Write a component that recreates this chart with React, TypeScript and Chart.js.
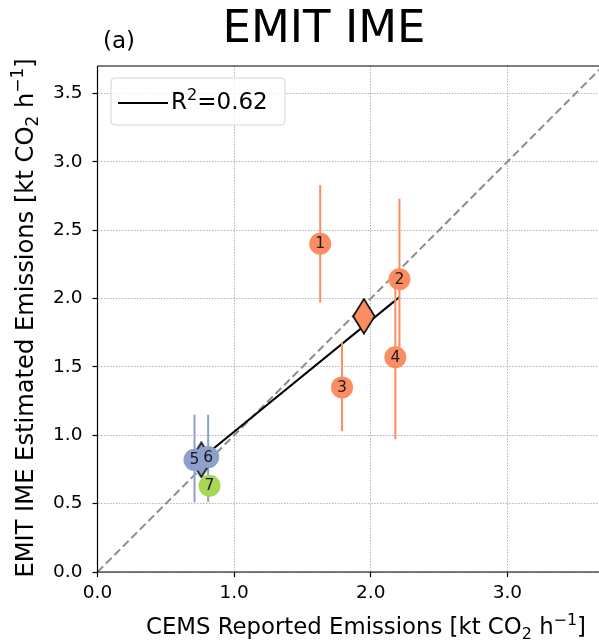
import React, { useEffect, useRef } from 'react';
import { Chart, registerables } from 'chart.js';

Chart.register(...registerables);

// ---------- data ----------
const siteLabels = ['1', '2', '3', '4', '5', '6', '7'];
const cemsReported = [1.63, 2.21, 1.79, 2.18, 0.71, 0.81, 0.82];
const emitEstimated = [2.40, 2.14, 1.35, 1.57, 0.82, 0.84, 0.63];
const emitLow = [1.97, 1.58, 1.03, 0.97, 0.51, 0.51, 0.57];
const emitHigh = [2.83, 2.73, 1.68, 2.08, 1.15, 1.15, 0.69];
const siteColors = ['#fc8d62', '#fc8d62', '#fc8d62', '#fc8d62', '#8da0cb', '#8da0cb', '#a6d854'];

const meanCems = [1.95, 0.76];
const meanEmit = [1.87, 0.82];
const meanColors = ['#fc8d62', '#8da0cb'];

const fitX = [0.71, 2.21];
const fitY = [0.79, 2.01];
const oneToOne = [0, 3.7];

const xTicks = [0, 1, 2, 3];
const yTicks = [0, 0.5, 1, 1.5, 2, 2.5, 3, 3.5];
const axisMax = 3.7;

const titleText = 'EMIT IME';
const panelText = '(a)';
type Seg = { t: string; k: number };
const xLabelParts: Seg[] = [
  { t: 'CEMS Reported Emissions [kt CO', k: 0 },
  { t: '2', k: -1 },
  { t: ' h', k: 0 },
  { t: '\u22121', k: 1 },
  { t: ']', k: 0 },
];
const yLabelParts: Seg[] = [
  { t: 'EMIT IME Estimated Emissions [kt CO', k: 0 },
  { t: '2', k: -1 },
  { t: ' h', k: 0 },
  { t: '\u22121', k: 1 },
  { t: ']', k: 0 },
];
const legendParts: Seg[] = [
  { t: 'R', k: 0 },
  { t: '2', k: 1 },
  { t: '=0.62', k: 0 },
];

const FONT = '"DejaVu Sans", "Liberation Sans", sans-serif';

function drawRich(ctx: CanvasRenderingContext2D, segs: Seg[], x: number, y: number, size: number, align: 'left' | 'center') {
  const widths = segs.map((s) => {
    ctx.font = `${s.k ? size * 0.7 : size}px ${FONT}`;
    return ctx.measureText(s.t).width;
  });
  const total = widths.reduce((a, b) => a + b, 0);
  let cx = align === 'center' ? x - total / 2 : x;
  ctx.textAlign = 'left';
  ctx.textBaseline = 'alphabetic';
  segs.forEach((s, i) => {
    ctx.font = `${s.k ? size * 0.7 : size}px ${FONT}`;
    const dy = s.k === 1 ? -size * 0.4 : s.k === -1 ? size * 0.22 : 0;
    ctx.fillText(s.t, cx, y + dy);
    cx += widths[i];
  });
}

function makeDiamond(color: string) {
  const c = document.createElement('canvas');
  const w = 24;
  const h = 37;
  c.width = w;
  c.height = h;
  const g = c.getContext('2d')!;
  g.beginPath();
  g.moveTo(w / 2, 1.2);
  g.lineTo(w - 1.2, h / 2);
  g.lineTo(w / 2, h - 1.2);
  g.lineTo(1.2, h / 2);
  g.closePath();
  g.fillStyle = color;
  g.fill();
  g.lineWidth = 1.6;
  g.strokeStyle = '#000';
  g.lineJoin = 'miter';
  g.stroke();
  return c;
}

const decorPlugin = {
  id: 'decor',
  afterDatasetsDraw(chart: any) {
    const ctx: CanvasRenderingContext2D = chart.ctx;
    const meta = chart.getDatasetMeta(chart.data.datasets.length - 1);
    ctx.save();
    ctx.fillStyle = '#1a1a1a';
    ctx.font = `15.5px ${FONT}`;
    ctx.textAlign = 'center';
    ctx.textBaseline = 'middle';
    meta.data.forEach((el: any, i: number) => {
      ctx.fillText(siteLabels[i], el.x, el.y + 0.5);
    });
    ctx.restore();
  },
  afterDraw(chart: any) {
    const ctx: CanvasRenderingContext2D = chart.ctx;
    const a = chart.chartArea;
    ctx.save();
    // spines (left, top, bottom)
    ctx.strokeStyle = '#000';
    ctx.lineWidth = 1.2;
    ctx.beginPath();
    ctx.moveTo(a.left, a.top);
    ctx.lineTo(a.right, a.top);
    ctx.moveTo(a.left, a.top);
    ctx.lineTo(a.left, a.bottom);
    ctx.lineTo(a.right, a.bottom);
    ctx.stroke();

    // title
    ctx.fillStyle = '#000';
    ctx.font = `45px ${FONT}`;
    ctx.textAlign = 'center';
    ctx.textBaseline = 'alphabetic';
    ctx.fillText(titleText, 324, 42);
    ctx.font = `23px ${FONT}`;
    ctx.textAlign = 'left';
    ctx.fillText(panelText, 103, 48);

    // axis titles
    ctx.fillStyle = '#000';
    drawRich(ctx, xLabelParts, 366, 634, 22.8, 'center');
    ctx.save();
    ctx.translate(33, 318);
    ctx.rotate(-Math.PI / 2);
    drawRich(ctx, yLabelParts, 0, 0, 24.2, 'center');
    ctx.restore();

    // legend
    const bx = 111, by = 78, bw = 174, bh = 47, r = 4;
    ctx.beginPath();
    ctx.moveTo(bx + r, by);
    ctx.lineTo(bx + bw - r, by);
    ctx.quadraticCurveTo(bx + bw, by, bx + bw, by + r);
    ctx.lineTo(bx + bw, by + bh - r);
    ctx.quadraticCurveTo(bx + bw, by + bh, bx + bw - r, by + bh);
    ctx.lineTo(bx + r, by + bh);
    ctx.quadraticCurveTo(bx, by + bh, bx, by + bh - r);
    ctx.lineTo(bx, by + r);
    ctx.quadraticCurveTo(bx, by, bx + r, by);
    ctx.closePath();
    ctx.fillStyle = 'rgba(255,255,255,0.8)';
    ctx.fill();
    ctx.strokeStyle = '#d4d4d4';
    ctx.lineWidth = 1;
    ctx.stroke();
    ctx.strokeStyle = '#000';
    ctx.lineWidth = 2;
    ctx.beginPath();
    ctx.moveTo(118, 103);
    ctx.lineTo(168, 103);
    ctx.stroke();
    ctx.fillStyle = '#000';
    drawRich(ctx, legendParts, 171, 109, 23, 'left');
    ctx.restore();
  },
};

export default function App() {
  const ref = useRef<HTMLCanvasElement | null>(null);

  useEffect(() => {
    if (!ref.current) return;
    const diamonds = meanColors.map(makeDiamond);

    const errorSets = siteLabels.map((lab, i) => ({
      label: `err ${lab}`,
      data: [
        { x: cemsReported[i], y: emitLow[i] },
        { x: cemsReported[i], y: emitHigh[i] },
      ],
      showLine: true,
      borderColor: siteColors[i],
      borderWidth: 2,
      pointRadius: 0,
      order: 3,
    }));

    const tickFont = { family: FONT, size: 18.5 };
    const gridCommon = {
      color: '#b3b3b3',
      lineWidth: 1,
      drawTicks: true,
      tickLength: 5,
      tickColor: '#000',
      tickWidth: 1.2,
    };

    const chart = new Chart(ref.current, {
      type: 'scatter',
      data: {
        datasets: [
          {
            label: '1:1',
            data: oneToOne.map((v) => ({ x: v, y: v })),
            showLine: true,
            borderColor: '#8c8c8c',
            borderDash: [8, 4],
            borderWidth: 2,
            pointRadius: 0,
            order: 5,
          },
          {
            label: 'fit',
            data: fitX.map((v, i) => ({ x: v, y: fitY[i] })),
            showLine: true,
            borderColor: '#000',
            borderWidth: 2,
            pointRadius: 0,
            order: 4,
          },
          ...errorSets,
          {
            label: 'mean',
            data: meanCems.map((v, i) => ({ x: v, y: meanEmit[i] })),
            pointStyle: diamonds as any,
            pointRadius: 10,
            order: 2,
          },
          {
            label: 'sites',
            data: cemsReported.map((v, i) => ({ x: v, y: emitEstimated[i] })),
            backgroundColor: siteColors,
            borderWidth: 0,
            pointRadius: 11,
            pointStyle: 'circle',
            order: 1,
          },
        ] as any,
      },
      options: {
        animation: false,
        responsive: false,
        events: [],
        layout: { padding: { left: 0, top: 66, right: 37, bottom: 0 } },
        plugins: {
          legend: { display: false },
          tooltip: { enabled: false },
          title: { display: false },
        },
        scales: {
          x: {
            type: 'linear',
            min: 0,
            max: axisMax,
            afterBuildTicks: (s: any) => {
              s.ticks = xTicks.map((v) => ({ value: v }));
            },
            afterFit: (s: any) => {
              s.height = 69;
            },
            ticks: {
              callback: (v: any) => Number(v).toFixed(1),
              font: tickFont,
              color: '#000',
              padding: 5,
              maxRotation: 0,
              autoSkip: false,
            },
            grid: gridCommon,
            border: { display: false, dash: [1.5, 1.5] },
          },
          y: {
            type: 'linear',
            min: 0,
            max: axisMax,
            afterBuildTicks: (s: any) => {
              s.ticks = yTicks.map((v) => ({ value: v }));
            },
            afterFit: (s: any) => {
              s.width = 97.5;
            },
            ticks: {
              callback: (v: any) => Number(v).toFixed(1),
              font: tickFont,
              color: '#000',
              padding: 10,
              autoSkip: false,
            },
            grid: gridCommon,
            border: { display: false, dash: [1.5, 1.5] },
          },
        },
      } as any,
      plugins: [decorPlugin],
    });
    return () => chart.destroy();
  }, []);

  return (
    <div style={{ position: 'absolute', left: 0, top: 0, width: 599, height: 641, overflow: 'hidden', background: '#fff' }}>
      <canvas ref={ref} width={640} height={641} style={{ display: 'block' }} />
    </div>
  );
}
